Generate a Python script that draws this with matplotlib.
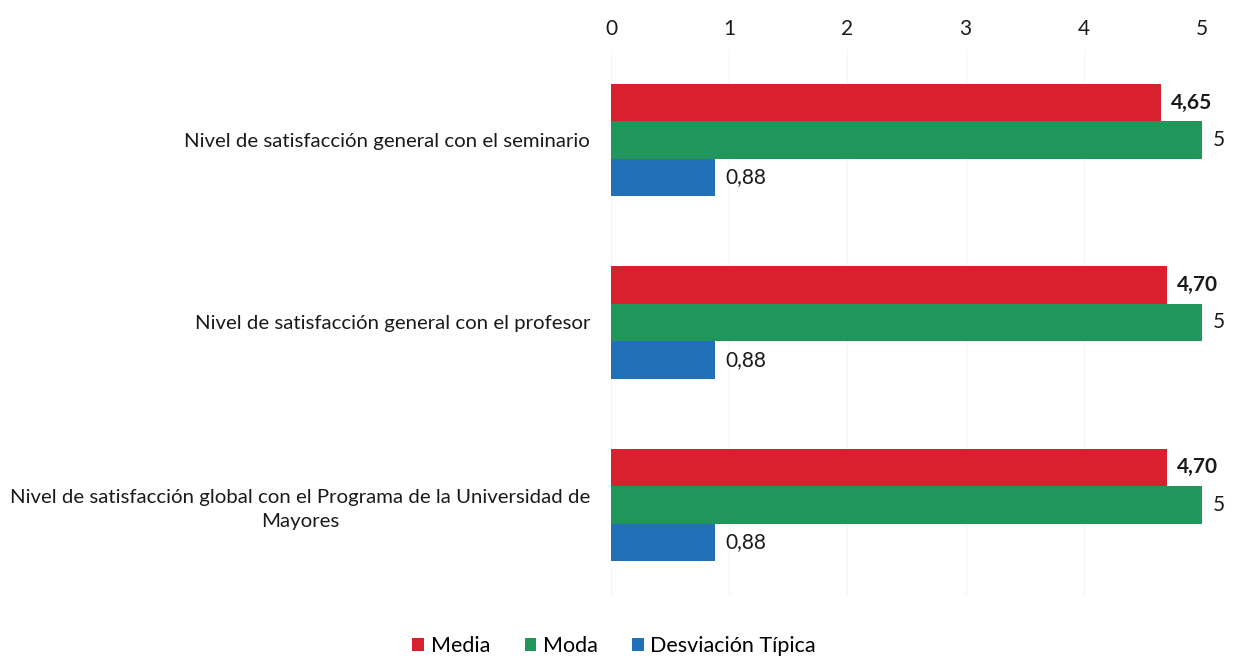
import numpy as np
from matplotlib import pyplot as plt

categories = [
    'Nivel de satisfacción general con el seminario',
    'Nivel de satisfacción general con el profesor',
    'Nivel de satisfacción global con el Programa de la Universidad de\nMayores',
]
media = [4.65, 4.70, 4.70]
moda = [5, 5, 5]
desviacion = [0.88, 0.88, 0.88]
series_names = ['Media', 'Moda', 'Desviación Típica']
colors = ['#D9202F', '#21965A', '#2170B8']

plt.rcParams['font.family'] = ['Lato', 'DejaVu Sans']

fig = plt.figure(figsize=(12.36, 6.56), dpi=100)
ax = fig.add_axes([0.4943, 0.0915, 0.4782, 0.8338])

y = np.arange(len(categories))
h = 0.205
series = [media, moda, desviacion]
labels_fmt = [lambda v: f'{v:.2f}'.replace('.', ','),
              lambda v: f'{v:g}',
              lambda v: f'{v:.2f}'.replace('.', ',')]
weights = ['bold', 'normal', 'normal']
txt = '#1a1a1a'

for i, (vals, name, c) in enumerate(zip(series, series_names, colors)):
    pos = y + (i - 1) * h
    ax.barh(pos, vals, height=h, color=c, label=name, zorder=2)
    for p, v in zip(pos, vals):
        ax.text(v + 0.09, p, labels_fmt[i](v), va='center', ha='left',
                fontsize=15, fontweight=weights[i], color=txt)

ax.set_xlim(0, 5)
ax.set_ylim(2.5, -0.5)
ax.xaxis.tick_top()
ax.set_xticks(range(6))
ax.tick_params(axis='x', length=0, pad=7, labelsize=15, labelcolor=txt)
ax.set_yticks(y)
ax.set_yticklabels(categories, fontsize=14.7, color=txt, multialignment='center',
                   linespacing=1.45)
ax.tick_params(axis='y', length=0, pad=15)
ax.grid(axis='x', color='#f5f5f5', lw=0.8, zorder=0)
for s in ax.spines.values():
    s.set_visible(False)

fig.legend(loc='lower center', bbox_to_anchor=(0.497, -0.03), ncol=3, frameon=False,
           fontsize=15.5, handlelength=0.55, handleheight=0.55, handletextpad=0.3,
           columnspacing=1.6)

fig.savefig('out.png', dpi=100)
